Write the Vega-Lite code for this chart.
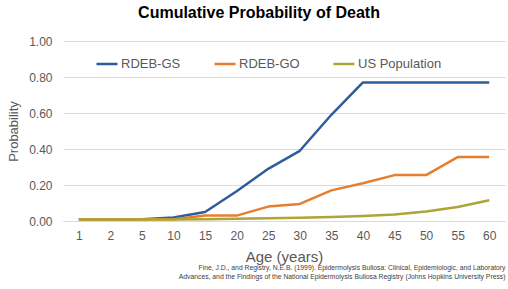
{
  "$schema": "https://vega.github.io/schema/vega-lite/v6.json",
  "width": 442,
  "height": 180,
  "autosize": {"type": "none"},
  "padding": {"left": 63, "top": 41, "right": 3, "bottom": 68},
  "background": "white",
  "title": {
    "text": "Cumulative Probability of Death",
    "font": "Liberation Sans",
    "fontSize": 16,
    "fontWeight": "bold",
    "color": "#000000",
    "anchor": "middle",
    "dx": -25,
    "offset": 14
  },
  "data": {
    "values": [
      {"age": "1", "series": "RDEB-GS", "p": 0.01},
      {"age": "2", "series": "RDEB-GS", "p": 0.01},
      {"age": "5", "series": "RDEB-GS", "p": 0.01},
      {"age": "10", "series": "RDEB-GS", "p": 0.02},
      {"age": "15", "series": "RDEB-GS", "p": 0.05},
      {"age": "20", "series": "RDEB-GS", "p": 0.165},
      {"age": "25", "series": "RDEB-GS", "p": 0.29},
      {"age": "30", "series": "RDEB-GS", "p": 0.39},
      {"age": "35", "series": "RDEB-GS", "p": 0.59},
      {"age": "40", "series": "RDEB-GS", "p": 0.77},
      {"age": "45", "series": "RDEB-GS", "p": 0.77},
      {"age": "50", "series": "RDEB-GS", "p": 0.77},
      {"age": "55", "series": "RDEB-GS", "p": 0.77},
      {"age": "60", "series": "RDEB-GS", "p": 0.77},
      {"age": "1", "series": "RDEB-GO", "p": 0.01},
      {"age": "2", "series": "RDEB-GO", "p": 0.01},
      {"age": "5", "series": "RDEB-GO", "p": 0.01},
      {"age": "10", "series": "RDEB-GO", "p": 0.01},
      {"age": "15", "series": "RDEB-GO", "p": 0.03},
      {"age": "20", "series": "RDEB-GO", "p": 0.03},
      {"age": "25", "series": "RDEB-GO", "p": 0.08},
      {"age": "30", "series": "RDEB-GO", "p": 0.095},
      {"age": "35", "series": "RDEB-GO", "p": 0.17},
      {"age": "40", "series": "RDEB-GO", "p": 0.21},
      {"age": "45", "series": "RDEB-GO", "p": 0.255},
      {"age": "50", "series": "RDEB-GO", "p": 0.255},
      {"age": "55", "series": "RDEB-GO", "p": 0.355},
      {"age": "60", "series": "RDEB-GO", "p": 0.355},
      {"age": "1", "series": "US Population", "p": 0.008},
      {"age": "2", "series": "US Population", "p": 0.008},
      {"age": "5", "series": "US Population", "p": 0.008},
      {"age": "10", "series": "US Population", "p": 0.009},
      {"age": "15", "series": "US Population", "p": 0.01},
      {"age": "20", "series": "US Population", "p": 0.012},
      {"age": "25", "series": "US Population", "p": 0.015},
      {"age": "30", "series": "US Population", "p": 0.018},
      {"age": "35", "series": "US Population", "p": 0.022},
      {"age": "40", "series": "US Population", "p": 0.028},
      {"age": "45", "series": "US Population", "p": 0.036},
      {"age": "50", "series": "US Population", "p": 0.053},
      {"age": "55", "series": "US Population", "p": 0.078},
      {"age": "60", "series": "US Population", "p": 0.115}
    ]
  },
  "layer": [
    {
      "mark": {"type": "line", "strokeWidth": 2.5, "strokeJoin": "round"},
      "encoding": {
        "x": {
          "field": "age",
          "type": "ordinal",
          "sort": null,
          "axis": {
            "title": "Age (years)",
            "titleFont": "Liberation Sans",
            "titleFontSize": 15,
            "titleFontWeight": "normal",
            "titleColor": "#595959",
            "titlePadding": 8,
            "labelFont": "Liberation Sans",
            "labelFontSize": 12,
            "labelColor": "#595959",
            "labelAngle": 0,
            "labelPadding": 9,
            "ticks": false,
            "domain": true,
            "domainColor": "#d9d9d9",
            "domainWidth": 1,
            "grid": false
          }
        },
        "y": {
          "field": "p",
          "type": "quantitative",
          "scale": {"domain": [0, 1]},
          "axis": {
            "title": "Probability",
            "titleFont": "Liberation Sans",
            "titleFontSize": 13,
            "titleFontWeight": "normal",
            "titleColor": "#595959",
            "titlePadding": 8,
            "values": [0, 0.2, 0.4, 0.6, 0.8, 1],
            "labelOverlap": false,
            "format": ".2f",
            "labelFont": "Liberation Sans",
            "labelFontSize": 12,
            "labelColor": "#595959",
            "labelPadding": 11,
            "ticks": false,
            "domain": false,
            "grid": true,
            "gridColor": "#d9d9d9",
            "gridWidth": 1
          }
        },
        "color": {
          "field": "series",
          "type": "nominal",
          "scale": {
            "domain": ["RDEB-GS", "RDEB-GO", "US Population"],
            "range": ["#2F5C9A", "#E67E2E", "#ADA537"]
          },
          "legend": {
            "title": null,
            "orient": "none",
            "direction": "horizontal",
            "legendX": 32,
            "legendY": 11,
            "symbolType": "stroke",
            "symbolStrokeWidth": 2.5,
            "symbolSize": 441,
            "labelFont": "Liberation Sans",
            "labelFontSize": 13,
            "labelColor": "#595959",
            "labelOffset": 2,
            "columnPadding": 28
          }
        }
      }
    },
    {
      "mark": {"type": "point", "opacity": 0},
      "encoding": {
        "x": {
          "field": "age",
          "type": "ordinal",
          "sort": null,
          "axis": {
            "orient": "bottom",
            "title": [
              "Fine, J.D., and Registry, N.E.B. (1999). Epidermolysis Bullosa: Clinical, Epidemiologic, and Laboratory",
              "Advances, and the Findings of the National Epidermolysis Bullosa Registry (Johns Hopkins University Press)"
            ],
            "titleFont": "Liberation Sans",
            "titleFontSize": 6.8,
            "titleFontWeight": "normal",
            "titleColor": "#404040",
            "titleAnchor": "end",
            "titleAlign": "right",
            "titleLineHeight": 9,
            "titlePadding": 43,
            "labels": false,
            "ticks": false,
            "domain": false,
            "grid": false
          }
        }
      }
    }
  ],
  "resolve": {"axis": {"x": "independent"}},
  "config": {"view": {"stroke": null}}
}
